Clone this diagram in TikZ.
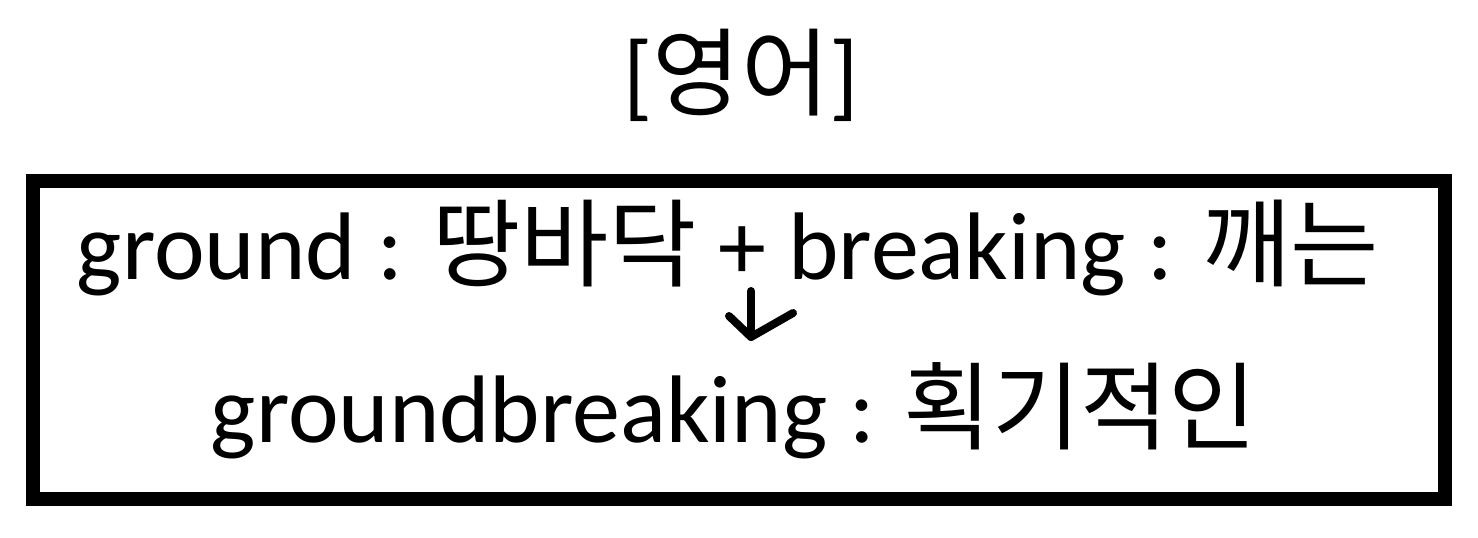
\documentclass[tikz,border=0pt]{standalone}
\usepackage{fontspec}
\setmainfont{Carlito}
\newfontfamily\kr{Noto Sans CJK KR}
\usetikzlibrary{positioning}

\begin{document}
\begin{tikzpicture}[
  x=0.5pt, y=-0.5pt,
  font=\fontsize{48}{58}\selectfont,
  txt/.style={anchor=base, inner sep=0pt},
  frame/.style={draw=black, line width=7pt, minimum width=706pt, minimum height=158.75pt, inner sep=0pt},
  hand/.style={draw=black, line width=4pt, line cap=round, line join=round}
]
\useasboundingbox (0,0) rectangle (1478,537);
\node[frame] (box) at (739,340) {};
\node[txt] (title) at (741,108) {[{\kr 영어}]};
\node[txt] (line1) at (728,279) {ground : {\kr 땅바닥} + breaking : {\kr 깨는}};
\node[txt] (line2) at (734,442) {groundbreaking : {\kr 획기적인}};
% hand drawn arrow from the plus down to the compound word
\coordinate (arrtop) at (751,291);
\coordinate (arrtip) at (751,337);
\draw[hand] (arrtop) -- (arrtip);
\draw[hand] (729,316) -- (arrtip) -- (793,313);
\end{tikzpicture}
\end{document}
